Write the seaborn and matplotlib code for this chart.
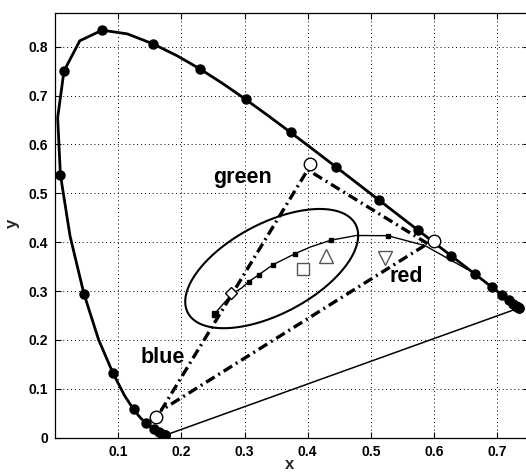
import numpy as np
import pandas as pd
import matplotlib
matplotlib.use("Agg")
import matplotlib.pyplot as plt
import seaborn as sns

# ---- data ----
# CIE 1931 spectral locus (wavelength nm, x, y)
wl = [380, 385, 390, 395, 400, 405, 410, 415, 420, 425, 430, 435, 440, 445, 450, 455,
      460, 465, 470, 475, 480, 485, 490, 495, 500, 505, 510, 515, 520, 525, 530, 535,
      540, 545, 550, 555, 560, 565, 570, 575, 580, 585, 590, 595, 600, 605, 610, 615,
      620, 625, 630, 635, 640, 645, 650, 655, 660, 665, 670, 675, 680, 685, 690, 695, 700]
loc_x = [0.1741, 0.1740, 0.1738, 0.1736, 0.1733, 0.1730, 0.1726, 0.1721, 0.1714, 0.1703,
         0.1689, 0.1669, 0.1644, 0.1611, 0.1566, 0.1510, 0.1440, 0.1355, 0.1241, 0.1096,
         0.0913, 0.0687, 0.0454, 0.0235, 0.0082, 0.0039, 0.0139, 0.0389, 0.0743, 0.1142,
         0.1547, 0.1929, 0.2296, 0.2658, 0.3016, 0.3373, 0.3731, 0.4087, 0.4441, 0.4788,
         0.5125, 0.5448, 0.5752, 0.6029, 0.6270, 0.6482, 0.6658, 0.6801, 0.6915, 0.7006,
         0.7079, 0.7140, 0.7190, 0.7230, 0.7260, 0.7283, 0.7300, 0.7311, 0.7320, 0.7327,
         0.7334, 0.7340, 0.7344, 0.7346, 0.7347]
loc_y = [0.0050, 0.0050, 0.0049, 0.0049, 0.0048, 0.0048, 0.0048, 0.0048, 0.0051, 0.0058,
         0.0069, 0.0086, 0.0109, 0.0138, 0.0177, 0.0227, 0.0297, 0.0399, 0.0578, 0.0868,
         0.1327, 0.2007, 0.2950, 0.4127, 0.5384, 0.6548, 0.7502, 0.8120, 0.8338, 0.8262,
         0.8059, 0.7816, 0.7543, 0.7243, 0.6923, 0.6589, 0.6245, 0.5896, 0.5547, 0.5202,
         0.4866, 0.4544, 0.4242, 0.3965, 0.3725, 0.3514, 0.3340, 0.3197, 0.3083, 0.2993,
         0.2920, 0.2859, 0.2809, 0.2770, 0.2740, 0.2717, 0.2700, 0.2689, 0.2680, 0.2673,
         0.2666, 0.2660, 0.2656, 0.2654, 0.2653]

# Planckian locus (CCT K, x, y)
cct = [1000, 1500, 2000, 2500, 3000, 3500, 4000, 5000, 6000, 7000, 8000, 10000, 15000, 20000]
pl_x = [0.6528, 0.5857, 0.5267, 0.4770, 0.4369, 0.4053, 0.3805, 0.3451, 0.3221, 0.3064,
        0.2952, 0.2807, 0.2637, 0.2530]
pl_y = [0.3444, 0.3931, 0.4133, 0.4137, 0.4041, 0.3907, 0.3768, 0.3540, 0.3330, 0.3190,
        0.3060, 0.2950, 0.2700, 0.2540]
pl_marked = [2000, 3000, 4000, 5000, 6000, 7000]
pl_end = [20000]

# display primaries (gamut triangle) and reference primaries (circles)
prim_names = ["red", "green", "blue"]
tri_x = [0.590, 0.400, 0.168]
tri_y = [0.397, 0.548, 0.056]
ref_x = [0.600, 0.403, 0.160]
ref_y = [0.403, 0.560, 0.042]

# ellipse parameters
ell_cx, ell_cy = 0.343, 0.346
ell_rx, ell_ry, ell_corr = 0.137, 0.122, 0.555

# open sample markers
sq_pt = (0.393, 0.346)
tri_up_pt = (0.429, 0.372)
tri_dn_pt = (0.522, 0.367)
dia_pt = (0.278, 0.297)

# labels
lab_text = ["green", "blue", "red"]
lab_x = [0.250, 0.135, 0.530]
lab_y = [0.521, 0.153, 0.319]

xticks = [0.1, 0.2, 0.3, 0.4, 0.5, 0.6, 0.7]
yticks = [0, 0.1, 0.2, 0.3, 0.4, 0.5, 0.6, 0.7, 0.8]

# ---- style ----
sns.set_theme(style="ticks")
plt.rcParams['font.family'] = ['Liberation Sans', 'DejaVu Sans']
plt.rcParams['font.weight'] = 'bold'

fig = plt.figure(figsize=(5.26, 4.76), dpi=100)
ax = fig.add_axes([55.2 / 526, 1 - 437.7 / 476, 473.4 / 526, 424.4 / 476])
ax.set_xlim(0, 0.75)
ax.set_ylim(0, 0.8683)

locus = pd.DataFrame({"wl": wl, "x": loc_x, "y": loc_y})
sns.lineplot(data=locus, x="x", y="y", sort=False, estimator=None, color="black",
             lw=2.0, ax=ax, zorder=4)
marks = locus[locus["wl"] % 10 == 0]
ax.plot(marks["x"], marks["y"], ls="none", marker="o", ms=6.5, color="black", zorder=5)

# purple line
purple = locus.iloc[[0, -1]]
sns.lineplot(data=purple, x="x", y="y", sort=False, estimator=None, color="black",
             lw=1.1, ax=ax, zorder=3)

# Planckian locus
pl = pd.DataFrame({"cct": cct, "x": pl_x, "y": pl_y})
sns.lineplot(data=pl, x="x", y="y", sort=False, estimator=None, color="black",
             lw=1.0, ax=ax, zorder=4)
plm = pl[pl["cct"].isin(pl_marked)]
ax.plot(plm["x"], plm["y"], ls="none", marker="s", ms=3, color="black", zorder=5)
ple = pl[pl["cct"].isin(pl_end)]
ax.plot(ple["x"], ple["y"], ls="none", marker="s", ms=5, color="black", zorder=6)

# gamut triangle
tri = pd.DataFrame({"x": tri_x + tri_x[:1], "y": tri_y + tri_y[:1]})
ax.plot(tri["x"], tri["y"], color="black", lw=2.4,
        linestyle=(0, (3.0, 1.3, 0.6, 1.3)), zorder=3)
ax.plot(ref_x, ref_y, ls="none", marker="o", ms=9, mfc="white", mec="black",
        mew=1.0, zorder=6)

# ellipse
t = np.linspace(0, 2 * np.pi, 361)
ex = ell_cx + ell_rx * np.cos(t)
ey = ell_cy + ell_ry * (ell_corr * np.cos(t) + np.sqrt(1 - ell_corr ** 2) * np.sin(t))
ax.plot(ex, ey, color="black", lw=1.5, zorder=4)

# open markers
ax.plot(*sq_pt, marker="s", ms=8, mfc="white", mec="#555555", mew=1.0, zorder=6)
ax.plot(*tri_up_pt, marker="^", ms=10, mfc="white", mec="#555555", mew=1.0, zorder=6)
ax.plot(*tri_dn_pt, marker="v", ms=10, mfc="white", mec="#555555", mew=1.0, zorder=6)
ax.plot(*dia_pt, marker="D", ms=6, mfc="white", mec="black", mew=1.0, zorder=7)

for s, x, y in zip(lab_text, lab_x, lab_y):
    ax.text(x, y, s, fontsize=15.5, fontweight="bold", ha="left", va="baseline",
            color="black", zorder=8)

ax.set_xticks(xticks)
ax.set_yticks(yticks)
ax.set_xticklabels([f"{v:g}" for v in xticks])
ax.set_yticklabels([f"{v:g}" for v in yticks])
ax.grid(True, color="black", lw=0.7, linestyle=(0, (1, 3)))
ax.tick_params(direction="in", top=True, right=True, length=4, width=0.8,
               labelsize=10, pad=5, colors="black")
for lab in ax.get_xticklabels() + ax.get_yticklabels():
    lab.set_fontweight("bold")
for sp in ax.spines.values():
    sp.set_color("black")
    sp.set_linewidth(0.9)

ax.set_xlabel("x", fontsize=12, fontweight="bold")
ax.set_ylabel("y", fontsize=12, fontweight="bold")
ax.xaxis.set_label_coords(0.496, -0.045)
ax.yaxis.set_label_coords(-0.075, 0.506)

fig.savefig("out.png", dpi=100)
